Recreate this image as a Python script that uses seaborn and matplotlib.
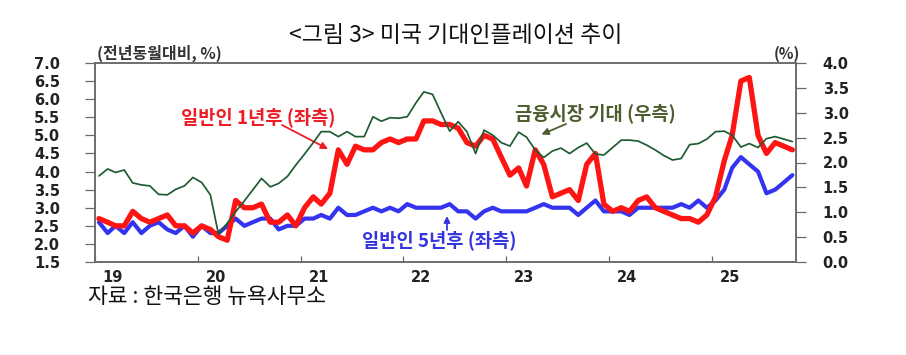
import numpy as np
import pandas as pd
import matplotlib
matplotlib.use("Agg")
import matplotlib.pyplot as plt
from matplotlib.transforms import ScaledTranslation
import seaborn as sns

# ---------------- data (monthly, Jan 2019 - Oct 2025) ----------------
start_month = "2019-01-01"
one_year = [2.7, 2.6, 2.5, 2.5, 2.9, 2.7, 2.6, 2.7, 2.8, 2.5, 2.5, 2.3,
            2.5, 2.4, 2.2, 2.1, 3.2, 3.0, 3.0, 3.1, 2.6, 2.6, 2.8, 2.5,
            3.0, 3.3, 3.1, 3.4, 4.6, 4.2, 4.7, 4.6, 4.6, 4.8, 4.9, 4.8,
            4.9, 4.9, 5.4, 5.4, 5.3, 5.3, 5.2, 4.8, 4.7, 5.0, 4.9, 4.4,
            3.9, 4.1, 3.6, 4.6, 4.2, 3.3, 3.4, 3.5, 3.2, 4.2, 4.5, 3.1,
            2.9, 3.0, 2.9, 3.2, 3.3, 3.0, 2.9, 2.8, 2.7, 2.7, 2.6, 2.8,
            3.3, 4.3, 5.0, 6.5, 6.6, 5.0, 4.5, 4.8, 4.7, 4.6]
five_year = [2.6, 2.3, 2.5, 2.3, 2.6, 2.3, 2.5, 2.6, 2.4, 2.3, 2.5, 2.2,
             2.5, 2.3, 2.3, 2.5, 2.7, 2.5, 2.6, 2.7, 2.7, 2.4, 2.5, 2.5,
             2.7, 2.7, 2.8, 2.7, 3.0, 2.8, 2.8, 2.9, 3.0, 2.9, 3.0, 2.9,
             3.1, 3.0, 3.0, 3.0, 3.0, 3.1, 2.9, 2.9, 2.7, 2.9, 3.0, 2.9,
             2.9, 2.9, 2.9, 3.0, 3.1, 3.0, 3.0, 3.0, 2.8, 3.0, 3.2, 2.9,
             2.9, 2.9, 2.8, 3.0, 3.0, 3.0, 3.0, 3.0, 3.1, 3.0, 3.2, 3.0,
             3.2, 3.5, 4.1, 4.4, 4.2, 4.0, 3.4, 3.5, 3.7, 3.9]
market = [1.73, 1.87, 1.80, 1.85, 1.59, 1.55, 1.53, 1.36, 1.35, 1.46, 1.53, 1.70,
          1.60, 1.35, 0.56, 0.78, 1.01, 1.23, 1.45, 1.68, 1.51, 1.58, 1.72, 1.95,
          2.17, 2.40, 2.62, 2.62, 2.52, 2.62, 2.52, 2.52, 2.92, 2.83, 2.90, 2.89,
          2.92, 3.20, 3.42, 3.37, 3.00, 2.63, 2.82, 2.62, 2.18, 2.65, 2.55, 2.40,
          2.33, 2.61, 2.51, 2.25, 2.10, 2.23, 2.29, 2.18, 2.30, 2.39, 2.17, 2.15,
          2.30, 2.45, 2.45, 2.43, 2.35, 2.25, 2.14, 2.05, 2.08, 2.36, 2.38, 2.47,
          2.62, 2.63, 2.55, 2.31, 2.38, 2.30, 2.48, 2.52, 2.47, 2.42]
year_ticks = ["2019", "2020", "2021", "2022", "2023", "2024", "2025"]
year_labels = ["19", "20", "21", "22", "23", "24", "25"]
left_ticks = [1.5, 2.0, 2.5, 3.0, 3.5, 4.0, 4.5, 5.0, 5.5, 6.0, 6.5, 7.0]
right_ticks = [0.0, 0.5, 1.0, 1.5, 2.0, 2.5, 3.0, 3.5, 4.0]

title = "<그림 3> 미국 기대인플레이션 추이"
left_unit = "(전년동월대비, %)"
right_unit = "(%)"
label_1y = "일반인 1년후 (좌측)"
label_5y = "일반인 5년후 (좌측)"
label_mkt = "금융시장 기대 (우측)"
source = "자료 : 한국은행 뉴욕사무소"

# mid-month dates so that year ticks (Jan 1) fall between Dec and Jan points
dates = pd.date_range(start_month, periods=len(one_year), freq="MS") + pd.Timedelta(days=14)
df = pd.DataFrame({"date": dates, "one_year": one_year,
                   "five_year": five_year, "market": market})

# ---------------- style ----------------
sns.set_theme(style="white")
plt.rcParams["font.family"] = ["Noto Sans CJK KR", "DejaVu Sans"]
plt.rcParams["axes.unicode_minus"] = False

RED = "#ff1414"
BLUE = "#3434f0"
GREEN = "#1f5c34"
OLIVE = "#4f5e30"
SPINE = "#6a6a6a"
TICKC = "#222222"

fig = plt.figure(figsize=(9.06, 3.55), dpi=100)
ax = fig.add_axes([95 / 906, 1 - 262 / 355, 701 / 906, 199 / 355])
ax2 = ax.twinx()

sns.lineplot(data=df, x="date", y="five_year", ax=ax, color=BLUE, linewidth=3.0)
sns.lineplot(data=df, x="date", y="one_year", ax=ax, color=RED, linewidth=3.8)
sns.lineplot(data=df, x="date", y="market", ax=ax2, color=GREEN, linewidth=1.25)

ax.set_xlim(pd.Timestamp("2019-01-01"), pd.Timestamp("2025-10-28"))
ax.set_ylim(1.5, 7.0)
ax2.set_ylim(0.0, 4.0)

ax.set_xticks([pd.Timestamp(y + "-01-01") for y in year_ticks])
ax.set_xticklabels(year_labels)
ax.set_yticks(left_ticks)
ax.set_yticklabels([f"{v:.1f}" for v in left_ticks])
ax2.set_yticks(right_ticks)
ax2.set_yticklabels([f"{v:.1f}" for v in right_ticks])

for a in (ax, ax2):
    a.set_xlabel("")
    a.set_ylabel("")
    for s in a.spines.values():
        s.set_color(SPINE)
        s.set_linewidth(1.1)
        s.set_visible(True)
    a.grid(False)

tick_font = dict(family="DejaVu Sans", weight="bold", size=10.5)
ax.tick_params(axis="y", direction="out", length=7.2, width=0.9, color=SPINE,
               pad=18, labelcolor=TICKC, left=True, right=False)
ax2.tick_params(axis="y", direction="out", length=7.2, width=0.9, color=SPINE,
                pad=12, labelcolor=TICKC, right=True, left=False)
ax.tick_params(axis="x", direction="in", length=4.5, width=0.9, color=SPINE,
               pad=6, labelcolor=TICKC, bottom=True, top=False)
ax2.tick_params(axis="x", bottom=False, top=False)

for lab in ax.get_yticklabels() + ax2.get_yticklabels() + ax.get_xticklabels():
    lab.set_fontfamily(tick_font["family"])
    lab.set_fontweight(tick_font["weight"])
    lab.set_fontsize(tick_font["size"])
offset = ScaledTranslation(0.18, 0, fig.dpi_scale_trans)
for lab in ax.get_xticklabels():
    lab.set_transform(lab.get_transform() + offset)

# ---------------- texts ----------------
fig.text(456 / 906, 1 - 36 / 355, title, ha="center", va="center",
         fontsize=16.5, color="#111111")
ax.text(0.003, 1.006, left_unit, transform=ax.transAxes, ha="left", va="bottom",
        fontsize=11.5, fontweight="bold", color="#333333")
ax.text(1.006, 1.006, right_unit, transform=ax.transAxes, ha="right", va="bottom",
        fontsize=11, fontweight="bold", color="#333333")
fig.text(88 / 906, 1 - 297 / 355, source, ha="left", va="center",
         fontsize=15.5, color="#111111")

# series labels with arrows (axes-fraction positions)
ax.text(0.2325, 0.7286, label_1y, transform=ax.transAxes, ha="center", va="center",
        fontsize=13.5, fontweight="bold", color="#ee1c24")
ax.annotate("", xy=(0.3324, 0.5678), xytext=(0.2668, 0.6884),
            xycoords="axes fraction", textcoords="axes fraction",
            arrowprops=dict(arrowstyle="-|>", color="#ee1c24", lw=1.3,
                            mutation_scale=10, shrinkA=0, shrinkB=0))

ax2.text(0.7133, 0.7487, label_mkt, transform=ax2.transAxes, ha="center", va="center",
         fontsize=13.5, fontweight="bold", color=OLIVE)
ax2.annotate("", xy=(0.6369, 0.6407), xytext=(0.6719, 0.6935),
             xycoords="axes fraction", textcoords="axes fraction",
             arrowprops=dict(arrowstyle="-|>", color=OLIVE, lw=1.3,
                             mutation_scale=10, shrinkA=0, shrinkB=0))

ax2.text(0.4907, 0.1106, label_5y, transform=ax2.transAxes, ha="center", va="center",
         fontsize=13.5, fontweight="bold", color="#3535e0")
ax2.annotate("", xy=(0.5021, 0.2312), xytext=(0.5021, 0.1608),
             xycoords="axes fraction", textcoords="axes fraction",
             arrowprops=dict(arrowstyle="-|>", color="#3535e0", lw=1.3,
                             mutation_scale=9, shrinkA=0, shrinkB=0))

fig.savefig("out.png", dpi=100)
